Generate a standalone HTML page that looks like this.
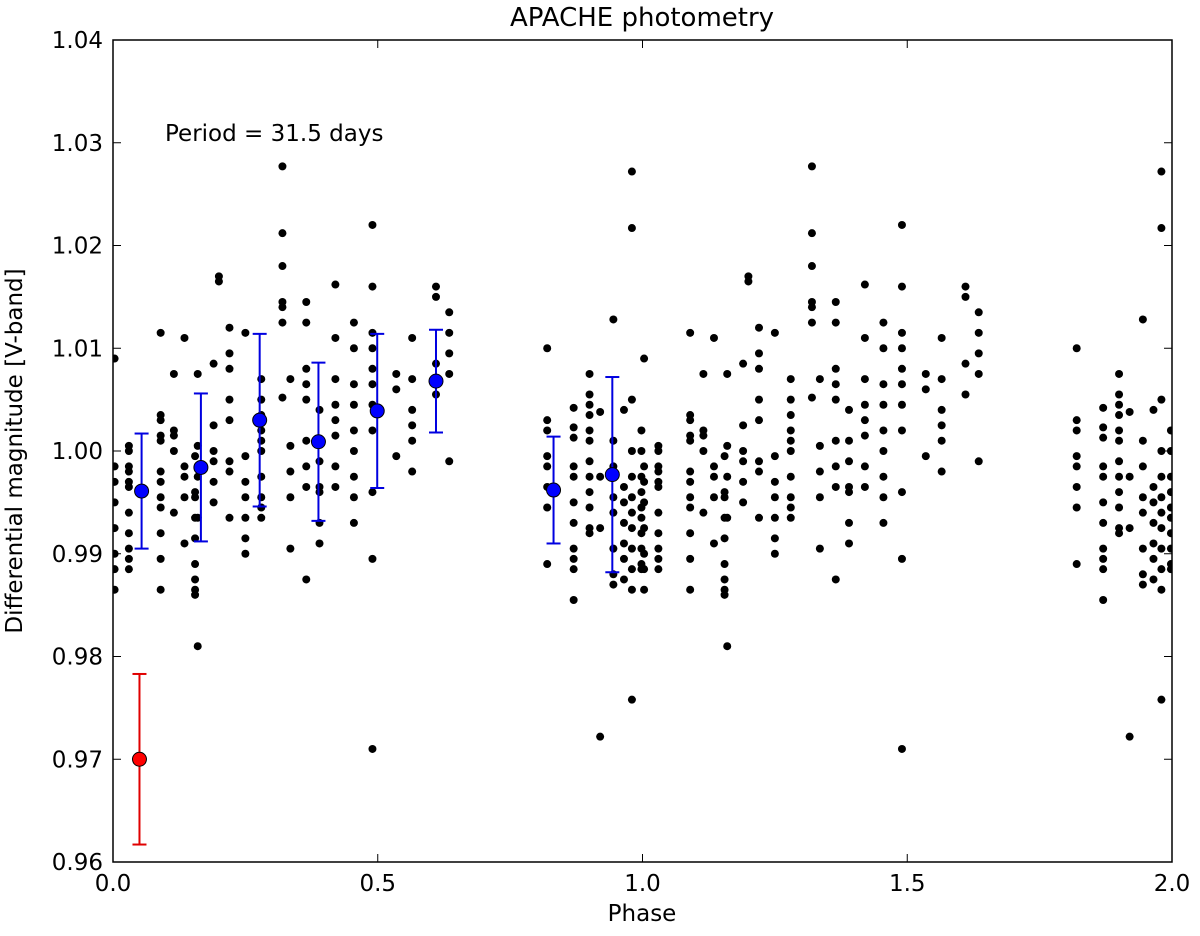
<!DOCTYPE html>
<html><head><meta charset="utf-8"><style>
body{margin:0;background:#fff;}
svg text{font-family:"DejaVu Sans","Liberation Sans",sans-serif;fill:#000;}
</style></head><body>
<svg id="chart" width="1200" height="931" xmlns="http://www.w3.org/2000/svg">
<defs><clipPath id="clip"><rect x="113" y="40" width="1059" height="822"/></clipPath></defs>
<text x="642" y="26" font-size="26" text-anchor="middle">APACHE photometry</text>
<text x="642" y="921" font-size="23" text-anchor="middle">Phase</text>
<text transform="translate(22,451) rotate(-90)" font-size="23" text-anchor="middle">Differential magnitude [V-band]</text>
<text x="165" y="141" font-size="23">Period = 31.5 days</text>
<g id="ticks"></g>
<g id="dots" clip-path="url(#clip)"></g>
<g id="bins"></g>
<rect x="113" y="40" width="1059" height="822" fill="none" stroke="#000" stroke-width="1.5"/>
</svg>
<script>
const xTicks=[0,0.5,1.0,1.5,2.0];
const xTickLabels=["0.0","0.5","1.0","1.5","2.0"];
const yTicks=[0.96,0.97,0.98,0.99,1.00,1.01,1.02,1.03,1.04];
const yTickLabels=["0.96","0.97","0.98","0.99","1.00","1.01","1.02","1.03","1.04"];
const colPhases=[0.003,0.03,0.09,0.115,0.135,0.155,0.16,0.19,0.2,0.22,0.25,0.28,0.32,0.335,0.365,0.39,0.42,0.455,0.49,0.535,0.565,0.61,0.635,0.82,0.87,0.9,0.92,0.945,0.965,0.98,0.998];
const colMags=[
[0.9985,0.997,0.995,0.9925,0.990,0.9885,0.9865,1.009],
[1.0005,1.000,0.998,0.997,0.9965,0.994,0.992,0.9905,0.9895,0.9885,0.9985],
[1.0115,1.0035,1.003,1.0015,1.001,0.998,0.997,0.9955,0.9945,0.992,0.9895,0.9865],
[1.0075,1.002,1.0015,1.000,0.994],
[1.0110,0.9985,0.9975,0.9955,0.991],
[0.9935,0.9915,0.989,0.9875,0.986,0.9865,0.9995,0.996,0.9955],
[1.0075,1.0005,0.9975,0.9935,0.981],
[1.0085,1.0025,1.000,0.999,0.997,0.995],
[1.017,1.0165],
[1.0120,1.0095,1.008,1.005,1.003,0.999,0.998,0.9935],
[1.0115,0.9995,0.997,0.9955,0.9935,0.9915,0.990],
[1.0070,1.0050,1.0035,1.0020,1.0010,1.0000,0.9975,0.9955,0.9945,0.9935],
[1.0277,1.0212,1.018,1.0145,1.0140,1.0125,1.0052],
[1.0070,1.0005,0.998,0.9955,0.9905],
[1.0145,1.0125,1.0080,1.0065,1.0050,1.0010,0.9985,0.9965,0.9875],
[1.0040,1.0010,0.9990,0.9965,0.9930,0.991,0.996],
[1.0162,1.0110,1.0070,1.0045,1.0030,1.0015,0.9985,0.9965],
[1.0125,1.0100,1.0065,1.0045,1.0020,1.0000,0.9975,0.9955,0.9930],
[1.0220,1.0160,1.0115,1.0100,1.0080,1.0065,1.0045,1.0020,0.9960,0.9895,0.9710],
[1.0075,1.0060,0.9995],
[1.0110,1.0070,1.0040,1.0025,1.0010,0.9980],
[1.0160,1.0150,1.0085,1.0055],
[1.0135,1.0115,1.0095,1.0075,0.9990],
[1.0100,1.0030,1.0020,0.9995,0.9985,0.9965,0.9945,0.9890],
[1.0042,1.0023,1.0013,0.9985,0.9975,0.9950,0.9930,0.9905,0.9895,0.9885,0.9855],
[1.0075,1.0055,1.0045,1.0035,1.0020,1.0010,0.9990,0.9975,0.9960,0.9945,0.9925,0.9920],
[1.0038,0.9975,0.9925,0.9722],
[1.0128,1.0010,0.9985,0.9955,0.9940,0.9905,0.9880,0.9870],
[1.0040,0.9965,0.9950,0.9930,0.9910,0.9895,0.9875],
[1.0272,1.0217,1.0050,1.0000,0.9975,0.9955,0.9940,0.9925,0.9905,0.9885,0.9865,0.9758],
[1.0020,1.0000,0.9975,0.9960,0.9945,0.9935,0.9920,0.9905,0.9890,0.9885]
];
const binPhases=[0.054,0.166,0.277,0.388,0.499,0.61,0.832,0.943];
const binMags=[0.9961,0.9984,1.0030,1.0009,1.0039,1.0068,0.9962,0.9977];
const binErrs=[0.0056,0.0072,0.0084,0.0077,0.0075,0.0050,0.0052,0.0095];
const refPhase=[0.05];const refMag=[0.970];const refErr=[0.0083];

const X=p=>113+p*529.5;
const Y=m=>862-(m-0.96)/0.08*822;
const NS="http://www.w3.org/2000/svg";
function mk(tag,attrs,parent){const e=document.createElementNS(NS,tag);for(const k in attrs)e.setAttribute(k,attrs[k]);parent.appendChild(e);return e;}
const ticks=document.getElementById('ticks');
xTicks.forEach((t,i)=>{
 let l=mk('line',{x1:X(t),x2:X(t),y1:862,y2:854,stroke:'#000','stroke-width':1},ticks);
 
 
 let l2=mk('line',{x1:X(t),x2:X(t),y1:40,y2:48,stroke:'#000','stroke-width':1},ticks);
 
 
 let tx=mk('text',{x:X(t),y:891,'font-size':23,'text-anchor':'middle'},ticks);tx.textContent=xTickLabels[i];
 
 
});
yTicks.forEach((t,i)=>{
 let l=mk('line',{x1:113,x2:121,y1:Y(t),y2:Y(t),stroke:'#000','stroke-width':1},ticks);
 
 
 let l2=mk('line',{x1:1164,x2:1172,y1:Y(t),y2:Y(t),stroke:'#000','stroke-width':1},ticks);
 
 
 let tx=mk('text',{x:103,y:Y(t)+8,'font-size':23,'text-anchor':'end'},ticks);tx.textContent=yTickLabels[i];
 
 
});
const dots=document.getElementById('dots');
colPhases.forEach((p,i)=>{colMags[i].forEach(m=>{[0,1].forEach(o=>{
 let c=mk('circle',{cx:X(p+o),cy:Y(m),r:4,fill:'#000'},dots);
 
 
});});});
const bins=document.getElementById('bins');
function errbar(p,m,e,col,name){
 const x=X(p);
 let g=mk('g',{},bins);
 
 
 mk('line',{x1:x,x2:x,y1:Y(m+e),y2:Y(m-e),stroke:col,'stroke-width':2},g);
 mk('line',{x1:x-7,x2:x+7,y1:Y(m+e),y2:Y(m+e),stroke:col,'stroke-width':2},g);
 mk('line',{x1:x-7,x2:x+7,y1:Y(m-e),y2:Y(m-e),stroke:col,'stroke-width':2},g);
 mk('circle',{cx:x,cy:Y(m),r:7,fill:col==='#0000e0'?'#0000ff':'#ff0000',stroke:'#000','stroke-width':1},g);
}
binPhases.forEach((p,i)=>errbar(p,binMags[i],binErrs[i],'#0000e0','binned-point'));
refPhase.forEach((p,i)=>errbar(p,refMag[i],refErr[i],'#e00000','typical-error-point'));
</script>
</body></html>
